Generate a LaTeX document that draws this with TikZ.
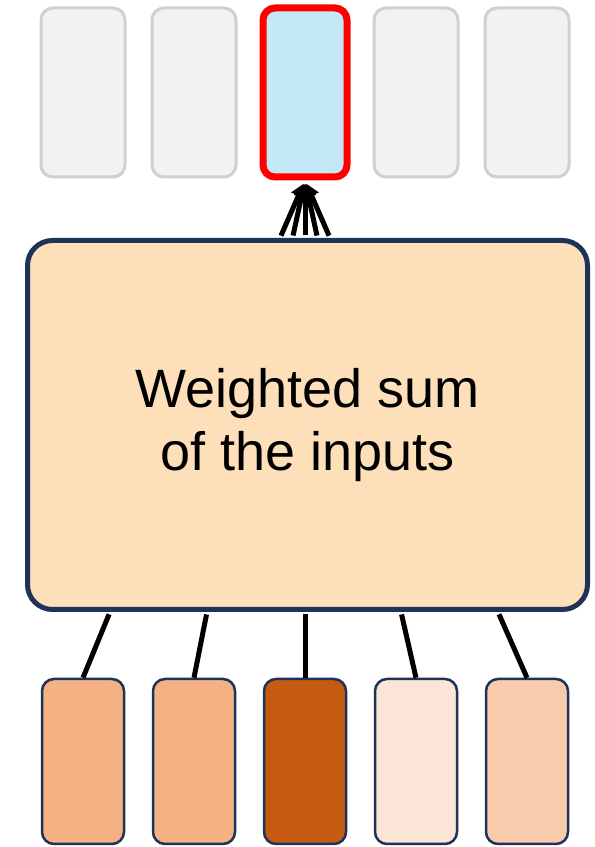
\documentclass[tikz,border=0pt]{standalone}
\usepackage{fontspec}
\setmainfont{Liberation Sans}
\usetikzlibrary{arrows.meta}

\definecolor{navy}{HTML}{1F3257}
\definecolor{cellgray}{HTML}{D0D0D0}
\definecolor{cellfill}{HTML}{F2F2F2}
\definecolor{outblue}{HTML}{C5E8F7}
\definecolor{mixfill}{HTML}{FDE0BA}
\definecolor{inA}{HTML}{F4B183}
\definecolor{inB}{HTML}{C55A11}
\definecolor{inC}{HTML}{FBE5D6}
\definecolor{inD}{HTML}{F8CBAD}

\begin{document}
\begin{tikzpicture}[
  x=1pt, y=1pt,
  cell/.style={rectangle, rounded corners=12pt, inner sep=0pt,
               minimum width=84pt, minimum height=169pt},
  outcell/.style={cell, draw=cellgray, fill=cellfill, line width=3pt},
  incell/.style={cell, draw=navy, fill=#1, line width=2.5pt,
                 minimum width=82pt, minimum height=165pt},
  mixbox/.style={rectangle, rounded corners=25pt, draw=navy, fill=mixfill,
                 line width=5pt, minimum width=560pt, minimum height=369pt,
                 align=center, font=\fontsize{54}{63}\selectfont},
  wire/.style={line width=5pt, black},
  arr/.style={wire, -{Triangle[length=13pt, width=15pt]}},
]
\useasboundingbox (0,0) rectangle (595,847);

% Outputs
\foreach \i/\x in {1/83,2/194,4/416,5/527}
  \node[outcell] (out\i) at (\x,754.5) {};
\node[outcell, draw=red, fill=outblue, line width=7pt] (out3) at (305,754.5) {};

% Weighted sum
\node[mixbox] (mix) at (307.5,422) {Weighted sum\\of the inputs};

% Inputs
\foreach \i/\x/\c in {1/83/inA,2/194/inA,3/305/inB,4/416/inC,5/527/inD}
  \node[incell=\c] (in\i) at (\x,85.5) {};

% Inputs -> box
\foreach \i/\s in {1/-197.5,2/-100.5,3/-2.5,4/93.5,5/190.5}
  \draw[wire, shorten >=2.5pt] (in\i.north) -- ([xshift=\s pt]mix.south);

% Box -> output
\foreach \s in {-27.5,-15,-2.5,10,22.5}
  \draw[arr, shorten <=2.5pt, shorten >=3.5pt] ([xshift=\s pt]mix.north) -- (out3.south);

\end{tikzpicture}
\end{document}
